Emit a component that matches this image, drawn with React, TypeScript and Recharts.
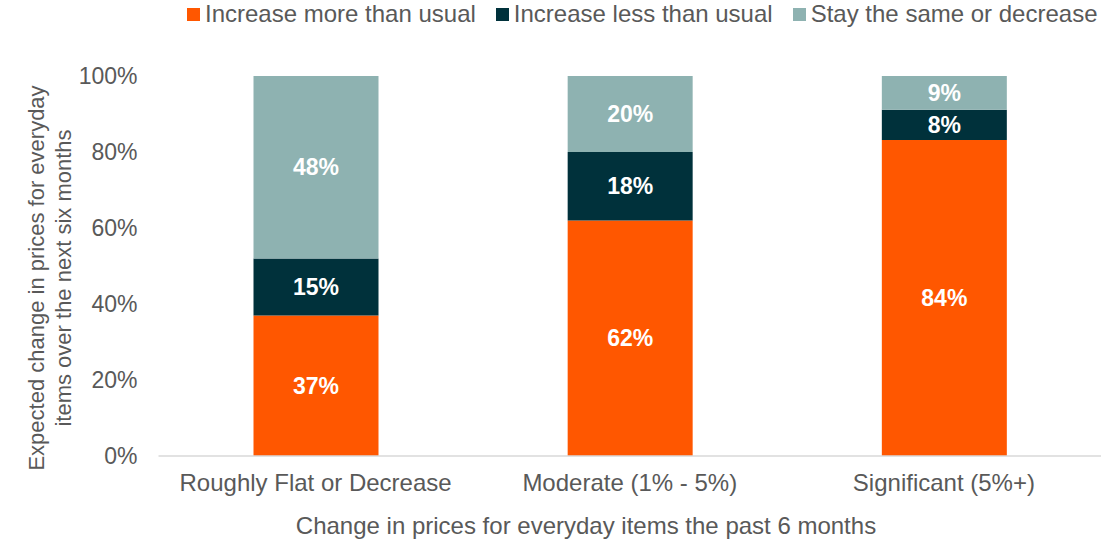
import React from "react";
import { BarChart, Bar, XAxis, YAxis, Legend, LabelList } from "recharts";

const categories = ["Roughly Flat or Decrease", "Moderate (1% - 5%)", "Significant (5%+)"];
const increaseMore = [37, 62, 84];
const increaseLess = [15, 18, 8];
const staySame = [48, 20, 9];
const yTicks = [0, 0.2, 0.4, 0.6, 0.8, 1];
const seriesNames = ["Increase more than usual", "Increase less than usual", "Stay the same or decrease"];
const seriesKeys = ["more", "less", "same"];
const colors = ["#FF5700", "#00313B", "#8EB2B1"];
const yTitleLines = ["Expected change in prices for everyday", "items over the next six months"];
const xTitle = "Change in prices for everyday items the past 6 months";

const data = categories.map((c, i) => ({
  name: c,
  more: increaseMore[i],
  less: increaseLess[i],
  same: staySame[i],
}));

const FONT = "'Liberation Sans', Arial, sans-serif";
const GRAY = "#595959";

const LegendContent = () => (
  <div
    style={{
      display: "flex",
      alignItems: "center",
      height: 28,
      paddingLeft: 187,
      fontFamily: FONT,
      fontSize: 24,
      color: GRAY,
      whiteSpace: "nowrap",
    }}
  >
    {seriesNames.map((n, i) => (
      <div key={n} style={{ display: "flex", alignItems: "center", marginRight: 20 }}>
        <span
          style={{ display: "inline-block", width: 13, height: 13, background: colors[i], marginRight: 5 }}
        />
        <span>{n}</span>
      </div>
    ))}
  </div>
);

const YTitle = (props: any) => {
  const cy = 278;
  return (
    <g>
      {yTitleLines.map((t, i) => (
        <text
          key={i}
          x={36 + i * 27}
          y={cy}
          transform={`rotate(-90, ${36 + i * 27}, ${cy})`}
          textAnchor="middle"
          dominantBaseline="central"
          fontFamily={FONT}
          fontSize={22}
          fill={GRAY}
        >
          {t}
        </text>
      ))}
    </g>
  );
};

const XTitle = (props: any) => (
  <text x={586} y={534} textAnchor="middle" fontFamily={FONT} fontSize={24} fill={GRAY}>
    {xTitle}
  </text>
);

export default function App() {
  return (
    <div style={{ position: "absolute", left: 0, top: 0, width: 1119, height: 541, background: "#fff" }}>
      <BarChart
        width={1119}
        height={541}
        data={data}
        stackOffset="expand"
        barSize={125}
        margin={{ top: 48, right: 18, bottom: 55, left: 0 }}
      >
        <Legend
          verticalAlign="top"
          align="left"
          content={<LegendContent />}
          wrapperStyle={{ top: 0, left: 0, width: 1119, height: 28 }}
        />
        <XAxis
          dataKey="name"
          axisLine={{ stroke: "#D9D9D9", strokeWidth: 1.5 }}
          tickLine={false}
          tickSize={0}
          tickMargin={18}
          tick={{ fontFamily: FONT, fontSize: 24, fill: GRAY }}
          interval={0}
          label={{ content: <XTitle /> }}
        />
        <YAxis
          width={158.5}
          domain={[0, 1]}
          ticks={yTicks}
          tickFormatter={(v: number) => `${Math.round(v * 100)}%`}
          axisLine={false}
          tickLine={false}
          tickSize={0}
          tickMargin={21}
          tick={{ fontFamily: FONT, fontSize: 23, fill: GRAY }}
          label={{ content: <YTitle /> }}
        />
        {seriesKeys.map((k, i) => (
          <Bar key={k} dataKey={k} name={seriesNames[i]} stackId="a" fill={colors[i]} isAnimationActive={false}>
            <LabelList
              dataKey={k}
              position="center"
              formatter={(v: any) => `${v}%`}
              fill="#FFFFFF"
              fontFamily={FONT}
              fontSize={23}
              fontWeight="bold"
            />
          </Bar>
        ))}
      </BarChart>
    </div>
  );
}
